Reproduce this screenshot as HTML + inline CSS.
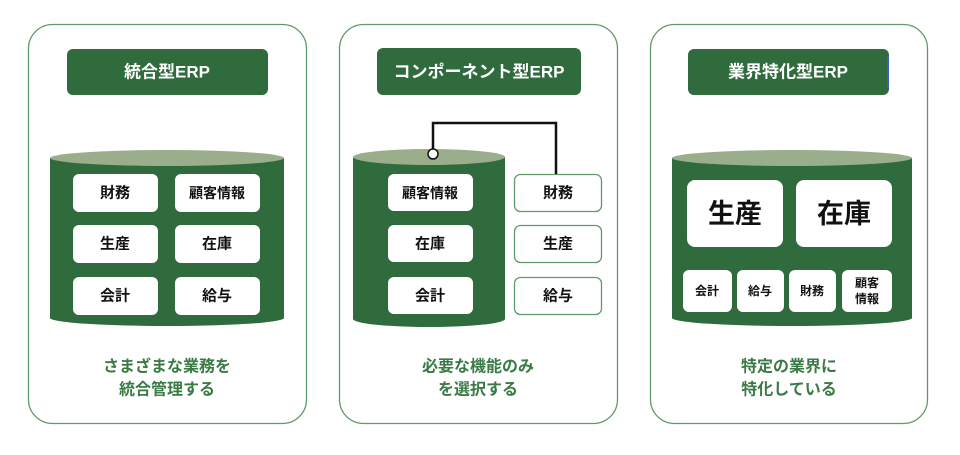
<!DOCTYPE html>
<html><head><meta charset="utf-8"><style>
html,body{margin:0;padding:0;background:#fff;}
svg{display:block;}
text{font-family:"Liberation Sans","Noto Sans CJK JP",sans-serif;font-weight:bold;text-anchor:middle;dominant-baseline:central;}
</style></head><body>
<svg width="960" height="455" viewBox="0 0 960 455">
<g fill="#fff" stroke="#5f9a6a" stroke-width="1.3">
<rect x="28.5" y="24.5" width="278" height="399" rx="24"/>
<rect x="339.5" y="24.5" width="278" height="399" rx="24"/>
<rect x="650.5" y="24.5" width="277" height="399" rx="24"/>
</g>
<!-- titles -->
<g fill="#2f6b3c">
<rect x="67" y="49" width="201" height="46" rx="6"/>
<rect x="377" y="48" width="204" height="47" rx="6"/>
<rect x="688" y="49" width="201" height="46" rx="6"/>
</g>
<rect x="887" y="56" width="2" height="32" fill="#3b5bd0"/>
<g fill="#fff" font-size="17">
<text x="167" y="72">統合型ERP</text>
<text x="479" y="72">コンポーネント型ERP</text>
<text x="788" y="72">業界特化型ERP</text>
</g>
<!-- cylinders -->
<g fill="#2f6b3c">
<path d="M50 158 L50 318 A117 8 0 0 0 284 318 L284 158 Z"/>
<path d="M353 157 L353 319 A76 8 0 0 0 505 319 L505 157 Z"/>
<path d="M672 158 L672 318 A120 8 0 0 0 912 318 L912 158 Z"/>
</g>
<g fill="#9aae8c">
<ellipse cx="167" cy="158" rx="117" ry="8"/>
<ellipse cx="429" cy="157" rx="76" ry="8"/>
<ellipse cx="792" cy="158" rx="120" ry="8"/>
</g>
<!-- panel 1 boxes -->
<g fill="#fff">
<rect x="73" y="174" width="85" height="38" rx="6"/>
<rect x="175" y="174" width="85" height="38" rx="6"/>
<rect x="73" y="225" width="85" height="38" rx="6"/>
<rect x="175" y="225" width="85" height="38" rx="6"/>
<rect x="73" y="277" width="85" height="38" rx="6"/>
<rect x="175" y="277" width="85" height="38" rx="6"/>
<rect x="388" y="174" width="85" height="37" rx="6"/>
<rect x="388" y="225" width="85" height="37" rx="6"/>
<rect x="388" y="277" width="85" height="37" rx="6"/>
<rect x="687" y="180" width="96" height="67" rx="8"/>
<rect x="796" y="180" width="96" height="67" rx="8"/>
<rect x="683" y="270" width="49" height="42" rx="6"/>
<rect x="737" y="270" width="47" height="42" rx="6"/>
<rect x="789" y="270" width="47" height="42" rx="6"/>
<rect x="842" y="270" width="50" height="42" rx="6"/>
</g>
<g fill="#fff" stroke="#5f9a6a" stroke-width="1.3">
<rect x="514.5" y="174.5" width="87" height="37" rx="6"/>
<rect x="514.5" y="225.5" width="87" height="37" rx="6"/>
<rect x="514.5" y="277.5" width="87" height="37" rx="6"/>
</g>
<path d="M433 151 V123 H556 V174" fill="none" stroke="#111" stroke-width="2.5"/>
<circle cx="433" cy="154" r="5" fill="#fff" stroke="#111" stroke-width="1.5"/>
<g fill="#111" font-size="15">
<text x="115" y="193">財務</text>
<text x="217" y="193" font-size="14">顧客情報</text>
<text x="115" y="244">生産</text>
<text x="217" y="244">在庫</text>
<text x="115" y="296">会計</text>
<text x="217" y="296">給与</text>
<text x="430" y="193" font-size="14">顧客情報</text>
<text x="430" y="244">在庫</text>
<text x="430" y="296">会計</text>
<text x="558" y="193">財務</text>
<text x="558" y="244">生産</text>
<text x="558" y="296">給与</text>
<text x="735" y="214" font-size="27">生産</text>
<text x="844" y="214" font-size="27">在庫</text>
<text x="707" y="291" font-size="12">会計</text>
<text x="760" y="291" font-size="12">給与</text>
<text x="812" y="291" font-size="12">財務</text>
<text x="867" y="283" font-size="12">顧客</text>
<text x="867" y="299" font-size="12">情報</text>
</g>
<g fill="#3a7a45" font-size="16">
<text x="167" y="367">さまざまな業務を</text>
<text x="167" y="390">統合管理する</text>
<text x="478" y="367">必要な機能のみ</text>
<text x="478" y="390">を選択する</text>
<text x="789" y="367">特定の業界に</text>
<text x="789" y="390">特化している</text>
</g>
</svg>
</body></html>
